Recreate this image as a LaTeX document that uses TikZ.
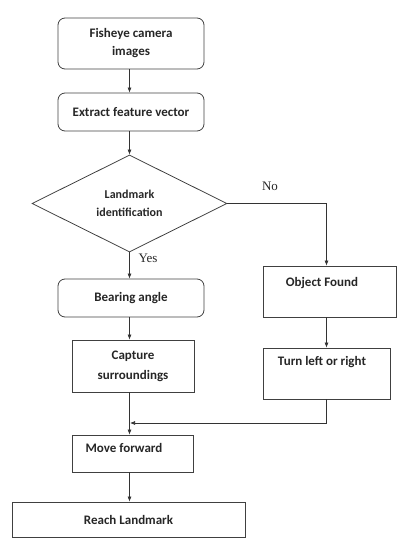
\documentclass[tikz,border=0pt]{standalone}
\usepackage{fontspec}
\setmainfont{Carlito}
\newfontfamily\timesfont{Liberation Serif}
\usetikzlibrary{arrows.meta,shapes.geometric,calc}

\tikzset{
  base/.style={draw=black!75,line width=.8pt,inner sep=0pt,font=\bfseries\fontsize{13}{18}\selectfont,text=black!85,align=center},
  roundbox/.style={base,rounded corners=7pt},
  sqbox/.style={base},
  decision/.style={base,diamond,aspect=2,font=\bfseries\fontsize{12}{18}\selectfont},
  link/.style={draw=black!80,line width=.7pt,-{Latex[length=5pt,width=4pt]}},
  answer/.style={font=\timesfont\fontsize{13}{15}\selectfont,text=black!85}
}

\begin{document}
\begin{tikzpicture}[x=1pt,y=-1pt]
\useasboundingbox (0,0) rectangle (410,545);
% main column
\node[roundbox,minimum width=146pt,minimum height=51pt] (cam) at (131,43.5){Fisheye camera\\images};
\node[roundbox,minimum width=146pt,minimum height=38pt] (feat) at (131,112){Extract feature vector};
\node[decision,minimum width=195pt,minimum height=97pt] (ident) at (129.5,203.5){Landmark\\identification};
\node[roundbox,minimum width=146pt,minimum height=38pt] (bear) at (131,298){Bearing angle};
\node[sqbox,minimum width=122pt,minimum height=52pt,font=\bfseries\fontsize{13}{20}\selectfont] (capt) at (133,366){Capture\\surroundings};
\node[sqbox,minimum width=121pt,text height=17pt,text depth=20pt] (move) at (132.5,453.5){\hspace*{-17pt}Move forward};
\node[sqbox,minimum width=233pt,minimum height=35pt] (reach) at (128.5,519.5){Reach Landmark};
% right branch
\node[sqbox,minimum width=133pt,text height=20pt,text depth=31pt] (found) at (329.5,291.5){\hspace*{-15pt}Object Found};
\node[sqbox,minimum width=127pt,text height=17pt,text depth=34pt] (turn) at (326.5,373.5){\hspace*{-9pt}Turn left or right};
\coordinate (join) at (130,423);
% connectors
\draw[link] (ident.north |- cam.south) -- (ident.north |- feat.north);
\draw[link] (ident.north |- feat.south) -- (ident.north);
\draw[link] (ident.south) -- (ident.south |- bear.north);
\draw[link] (ident.south |- bear.south) -- (ident.south |- capt.north);
\draw[link] (ident.east) -| (turn.north |- found.north);
\draw[link] (turn.north |- found.south) -- (turn.north);
\draw[link] (turn.south) |- (join);
\draw[link] (ident.south |- capt.south) -- (ident.south |- move.north);
\draw[link] (ident.south |- move.south) -- (ident.south |- reach.north);
% branch labels
\node[answer] (no) at (270,186){No};
\node[answer] (yes) at (148,258){Yes};
\end{tikzpicture}
\end{document}
